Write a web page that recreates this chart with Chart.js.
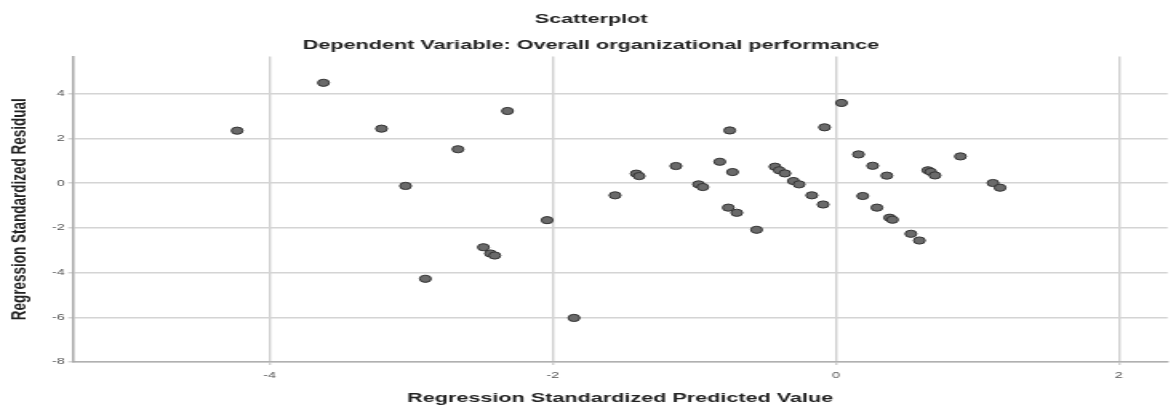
<!DOCTYPE html>
<html>
<head>
<meta charset="utf-8">
<script src="https://cdn.jsdelivr.net/npm/chart.js@4.4.1/dist/chart.umd.min.js"></script>
<style>
  body { margin: 0; background: #fff; overflow: hidden; }
  /* the original export is stretched sideways, so draw narrow and widen it */
  #wrap { width: 734.4px; height: 407px; transform: scaleX(1.6); transform-origin: 0 0; }
</style>
</head>
<body>
<div id="wrap"><canvas id="myChart"></canvas></div>
<script>
// predicted values (x) and residuals (y)
const predicted = [
  -4.23, -3.62, -3.21, -2.32, -2.67, -3.04, -2.04, -2.49, -2.44, -2.41, -2.90, -1.85,
  -1.56, -1.41, -1.39, -1.13, -0.97, -0.94, -0.82, -0.73, -0.76, -0.70, -0.56,
  -0.43, -0.40, -0.36, -0.30, -0.26, -0.17, -0.09, -0.75, -0.08, 0.04,
  0.16, 0.26, 0.36, 0.19, 0.29, 0.38, 0.40, 0.53, 0.59, 0.65, 0.67, 0.70, 0.88, 1.11, 1.16
];
const residual = [
  2.34, 4.48, 2.43, 3.22, 1.51, -0.13, -1.66, -2.87, -3.15, -3.24, -4.28, -6.03,
  -0.55, 0.42, 0.31, 0.76, -0.06, -0.18, 0.95, 0.49, -1.10, -1.33, -2.09,
  0.73, 0.57, 0.43, 0.09, -0.06, -0.55, -0.96, 2.35, 2.49, 3.58,
  1.28, 0.77, 0.33, -0.58, -1.10, -1.55, -1.64, -2.27, -2.57, 0.57, 0.50, 0.34, 1.19, 0.00, -0.21
];
const xTicks = [-4, -2, 0, 2];
const yTicks = [-8, -6, -4, -2, 0, 2, 4];

const points = predicted.map((x, i) => ({ x: x, y: residual[i] }));

const bold = { family: 'Liberation Sans', size: 13.5, weight: 'bold', lineHeight: 1.2 };

const ctx = document.getElementById('myChart');
new Chart(ctx, {
  type: 'scatter',
  data: {
    datasets: [{
      data: points,
      pointRadius: 3.6,
      pointHoverRadius: 3.6,
      pointBackgroundColor: '#6a6a6a',
      pointBorderColor: '#333',
      pointBorderWidth: 1
    }]
  },
  options: {
    responsive: true,
    maintainAspectRatio: false,
    animation: false,
    layout: { padding: { left: 0, top: 0, bottom: 0, right: -4.4 } },
    plugins: {
      legend: { display: false },
      tooltip: { enabled: false },
      title: {
        display: true,
        text: 'Scatterplot',
        color: '#222',
        font: bold,
        padding: { top: 11, bottom: 5 }
      },
      subtitle: {
        display: true,
        text: 'Dependent Variable: Overall organizational performance',
        color: '#222',
        font: bold,
        padding: { top: 5, bottom: 3 }
      }
    },
    scales: {
      x: {
        type: 'linear',
        min: -5.39,
        max: 2.344,
        afterBuildTicks: (scale) => { scale.ticks = xTicks.map(v => ({ value: v })); },
        afterFit: (scale) => {
          scale.height = 45;
          scale.paddingLeft = 0;
          scale.paddingRight = 0;
        },
        border: { color: '#b0b0b0', width: 1.5 },
        grid: { color: '#d0d0d0', lineWidth: 1.4, tickLength: 3 },
        ticks: {
          color: '#555',
          padding: 5,
          font: { family: 'Liberation Sans', size: 9 }
        },
        title: {
          display: true,
          text: 'Regression Standardized Predicted Value',
          color: '#222',
          font: bold,
          padding: { top: 0, bottom: 1 }
        }
      },
      y: {
        min: -8,
        max: 5.66,
        afterBuildTicks: (scale) => { scale.ticks = yTicks.map(v => ({ value: v })); },
        afterFit: (scale) => {
          scale.width = 45.6;
          scale.paddingTop = 0;
          scale.paddingBottom = 0;
        },
        border: { color: '#a8a8a8', width: 1.5 },
        grid: { color: '#d4d4d4', lineWidth: 1.5, tickLength: 3 },
        ticks: {
          color: '#555',
          padding: 2,
          font: { family: 'Liberation Sans', size: 9 }
        },
        title: {
          display: true,
          text: 'Regression Standardized Residual',
          color: '#222',
          font: bold,
          padding: { top: 4.5, bottom: 0 }
        }
      }
    }
  }
});
</script>
</body>
</html>
